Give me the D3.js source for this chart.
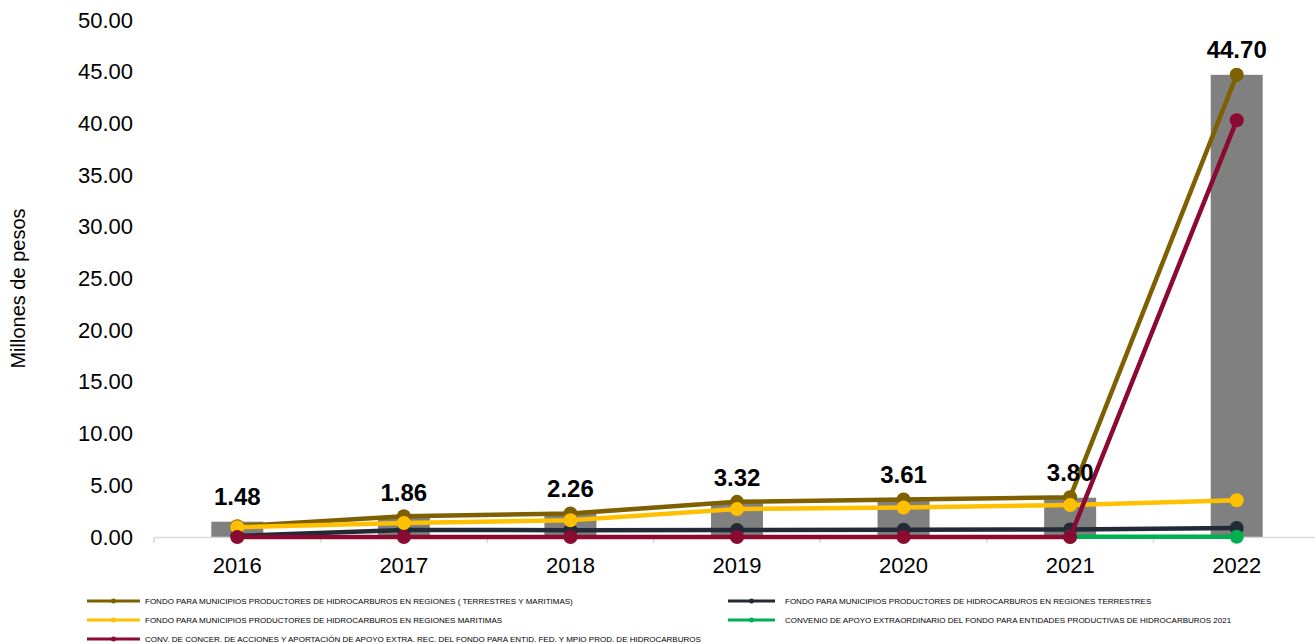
<!DOCTYPE html>
<html><head><meta charset="utf-8">
<script src="https://cdn.jsdelivr.net/npm/d3@7"></script>
<style>
html,body{margin:0;padding:0;background:#fff;}
svg{display:block;font-family:"Liberation Sans",Arial,sans-serif;}
</style></head>
<body><svg id="c" width="1315" height="643"></svg>
<script>
const years = ["2016","2017","2018","2019","2020","2021","2022"];
const totals = [1.48, 1.86, 2.26, 3.32, 3.61, 3.80, 44.70];
const yTicks = [0,5,10,15,20,25,30,35,40,45,50];

const serBrown  = [1.05, 2.00, 2.28, 3.40, 3.62, 3.85, 44.70];
const serNavy   = [0.10, 0.68, 0.66, 0.68, 0.70, 0.72, 0.88];
const serYellow = [0.95, 1.35, 1.62, 2.70, 2.85, 3.10, 3.55];
const serGreen  = [null, null, null, null, null, 0.02, 0.02];
const serRed    = [0, 0, 0, 0, 0, 0, 40.30];

const seriesNames = [
  "FONDO PARA MUNICIPIOS PRODUCTORES DE HIDROCARBUROS EN REGIONES ( TERRESTRES Y MARITIMAS)",
  "FONDO PARA MUNICIPIOS PRODUCTORES DE HIDROCARBUROS EN REGIONES TERRESTRES",
  "FONDO PARA MUNICIPIOS PRODUCTORES DE HIDROCARBUROS EN REGIONES MARITIMAS",
  "CONVENIO DE APOYO EXTRAORDINARIO DEL FONDO PARA ENTIDADES PRODUCTIVAS DE HIDROCARBUROS 2021",
  "CONV. DE CONCER. DE ACCIONES Y APORTACIÓN DE APOYO EXTRA. REC. DEL FONDO PARA ENTID. FED. Y MPIO PROD. DE HIDROCARBUROS"
];
const seriesColors = ["#7F6000", "#222A35", "#FFC000", "#00B050", "#8B0A32"];
const seriesData = [serBrown, serNavy, serYellow, serGreen, serRed];

const svg = d3.select("#c");
const pL = 154, pR = 1320, pT = 20, pB = 537;

const x = d3.scaleBand().domain(years).range([pL, pR]).paddingInner(0).paddingOuter(0);
const y = d3.scaleLinear().domain([0, 50]).range([pB, pT]);

// y axis labels (no line)
const yAxis = svg.append("g").attr("transform", `translate(${pL},0)`)
  .call(d3.axisLeft(y).tickValues(yTicks).tickFormat(d3.format(".2f")).tickSize(0).tickPadding(21));
yAxis.select(".domain").remove();
yAxis.selectAll("text").attr("font-size", 22).attr("fill", "#000")
  .attr("font-family", "Liberation Sans, Arial, sans-serif");

// bars
const bw = 52;
svg.append("g").selectAll("rect").data(totals).join("rect")
  .attr("x", (d,i) => x(years[i]) + x.bandwidth()/2 - bw/2)
  .attr("y", d => y(d))
  .attr("width", bw)
  .attr("height", d => y(0) - y(d))
  .attr("fill", "#808080");

// x axis
const xAxis = svg.append("g").attr("transform", `translate(0,${pB})`)
  .call(d3.axisBottom(x).tickSize(0).tickPadding(20));
xAxis.select(".domain").attr("stroke", "#d9d9d9").attr("stroke-width", 1.5);
xAxis.selectAll("text").attr("font-size", 22).attr("fill", "#000")
  .attr("font-family", "Liberation Sans, Arial, sans-serif");
// boundary tick marks
const bounds = years.map(d => x(d)).concat([x(years[years.length-1]) + x.bandwidth()]);
svg.append("g").selectAll("line").data(bounds).join("line")
  .attr("x1", d => d).attr("x2", d => d)
  .attr("y1", pB).attr("y2", pB + 6)
  .attr("stroke", "#d9d9d9").attr("stroke-width", 1.5);

// lines
const line = d3.line()
  .defined(d => d.v !== null)
  .x(d => x(d.year) + x.bandwidth()/2)
  .y(d => y(d.v));

seriesData.forEach((arr, si) => {
  const pts = arr.map((v,i) => ({year: years[i], v}));
  const g = svg.append("g");
  g.append("path").datum(pts).attr("d", line)
    .attr("fill", "none").attr("stroke", seriesColors[si]).attr("stroke-width", 4.5)
    .attr("stroke-linejoin", "round");
  g.selectAll("circle").data(pts.filter(p => p.v !== null)).join("circle")
    .attr("cx", d => x(d.year) + x.bandwidth()/2)
    .attr("cy", d => y(d.v))
    .attr("r", 7)
    .attr("fill", seriesColors[si]);
});

// data labels
svg.append("g").selectAll("text").data(totals).join("text")
  .attr("x", (d,i) => x(years[i]) + x.bandwidth()/2)
  .attr("y", d => y(d) - 17)
  .attr("text-anchor", "middle")
  .attr("font-size", 24).attr("font-weight", "bold").attr("fill", "#000")
  .text(d => d.toFixed(2));

// y title
svg.append("text")
  .attr("transform", `translate(25,${(pT+pB)/2 + 10}) rotate(-90)`)
  .attr("text-anchor", "middle")
  .attr("font-size", 20).attr("fill", "#000")
  .text("Millones de pesos");

// legend
const legendPos = [
  {lx: 87, tx: 145, y: 601},
  {lx: 728, tx: 785, y: 601},
  {lx: 87, tx: 145, y: 620},
  {lx: 728, tx: 785, y: 620},
  {lx: 87, tx: 145, y: 639}
];
const lg = svg.append("g");
seriesNames.forEach((name, i) => {
  const p = legendPos[i];
  const len = i % 2 === 0 ? 53 : 47;
  lg.append("line").attr("x1", p.lx).attr("x2", p.lx + len)
    .attr("y1", p.y).attr("y2", p.y)
    .attr("stroke", seriesColors[i]).attr("stroke-width", 3);
  lg.append("circle").attr("cx", p.lx + len/2).attr("cy", p.y).attr("r", 2.5)
    .attr("fill", seriesColors[i]);
  lg.append("text").attr("x", p.tx).attr("y", p.y + 3)
    .attr("font-size", 8).attr("fill", "#000")
    .text(name);
});
</script></body></html>
